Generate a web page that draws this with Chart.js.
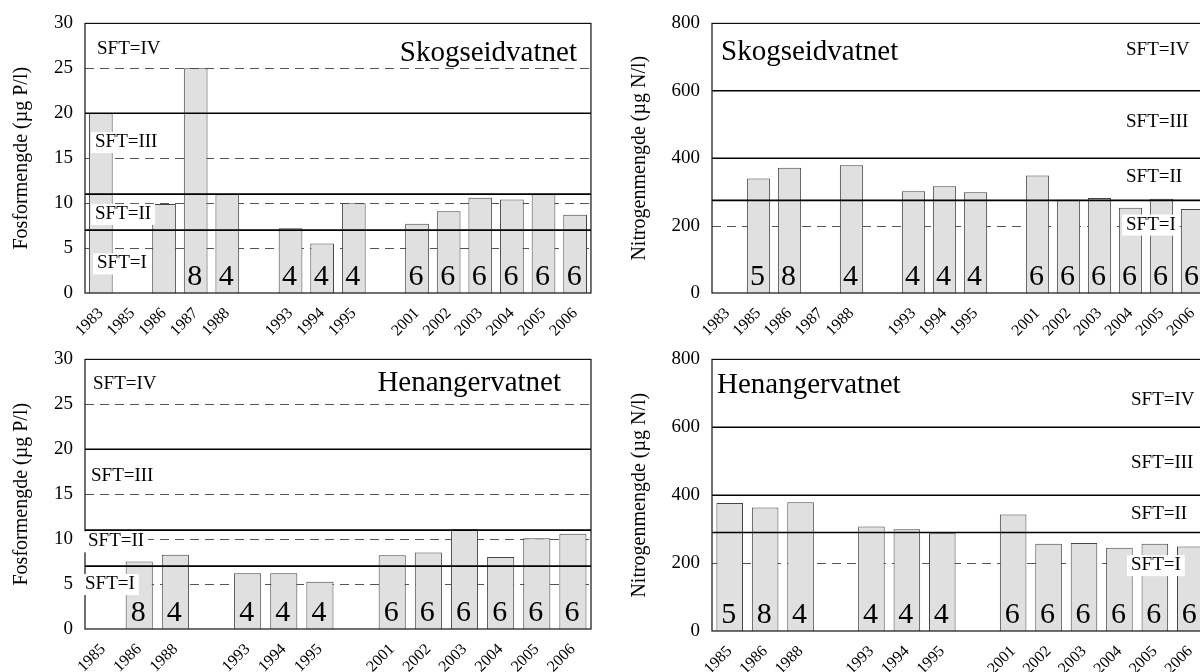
<!DOCTYPE html>
<html>
<head>
<meta charset="utf-8">
<script src="https://cdn.jsdelivr.net/npm/chart.js@4.4.1/dist/chart.umd.min.js"></script>
<style>
  html, body { margin:0; padding:0; background:#fff; overflow:hidden; width:1200px; height:672px; }
  canvas { position:absolute; }
</style>
</head>
<body>
<canvas id="c1" width="600" height="336" style="left:0;top:0"></canvas>
<canvas id="c2" width="620" height="336" style="left:600px;top:0"></canvas>
<canvas id="c3" width="600" height="336" style="left:0;top:336px"></canvas>
<canvas id="c4" width="620" height="336" style="left:600px;top:336px"></canvas>
<script>
// ---------- DATA ----------
const yearsSkog = ['1983','1985','1986','1987','1988','','1993','1994','1995','','2001','2002','2003','2004','2005','2006'];
const skogP      = [20, null, 9.9, 25, 11, null, 7.2, 5.5, 10, null, 7.7, 9.1, 10.6, 10.4, 11, 8.7];
const skogPCount = [null, null, null, 8, 4, null, 4, 4, 4, null, 6, 6, 6, 6, 6, 6];
const skogN      = [null, 340, 372, null, 379, null, 302, 317, 299, null, 349, 277, 282, 253, 280, 249];
const skogNCount = [null, 5, 8, null, 4, null, 4, 4, 4, null, 6, 6, 6, 6, 6, 6];

const yearsHen = ['1985','1986','1988','','1993','1994','1995','','2001','2002','2003','2004','2005','2006'];
const henP      = [null, 7.5, 8.25, null, 6.2, 6.2, 5.25, null, 8.2, 8.5, 11.1, 8.0, 10.1, 10.6];
const henPCount = [null, 8, 4, null, 4, 4, 4, null, 6, 6, 6, 6, 6, 6];
const henN      = [377, 364, 379, null, 308, 300, 288, null, 343, 257, 259, 245, 257, 249];
const henNCount = [5, 8, 4, null, 4, 4, 4, null, 6, 6, 6, 6, 6, 6];

const pSolid = [20, 11, 7];
const pDashed = [25, 15, 10, 5];
const nSolidSkog = [600, 400, 275];
const nSolidHen = [600, 400, 290];
const nDashed = [200];
const sftLabels = ['SFT=IV', 'SFT=III', 'SFT=II', 'SFT=I'];

// ---------- DRAWING ----------
const FONT = "'Liberation Serif', 'Times New Roman', serif";

const overlay = {
  id: 'overlay',
  beforeDatasetsDraw(chart, args, o) {
    const {ctx, chartArea: a} = chart;
    const y = chart.scales.y;
    ctx.save();
    ctx.strokeStyle = '#555';
    ctx.lineWidth = 1;
    ctx.setLineDash([9, 6]);
    o.dashed.forEach(v => {
      const py = Math.round(y.getPixelForValue(v)) + 0.5;
      ctx.beginPath(); ctx.moveTo(a.left, py); ctx.lineTo(a.right, py); ctx.stroke();
    });
    ctx.restore();
  },
  afterDatasetsDraw(chart, args, o) {
    const {ctx, chartArea: a} = chart;
    const y = chart.scales.y;
    ctx.save();
    // solid class boundaries
    ctx.strokeStyle = '#000';
    ctx.lineWidth = 1.6;
    o.solid.forEach(v => {
      const py = y.getPixelForValue(v);
      ctx.beginPath(); ctx.moveTo(a.left, py); ctx.lineTo(a.right, py); ctx.stroke();
    });
    // frame
    ctx.lineWidth = 1.2;
    ctx.strokeStyle = '#111';
    ctx.strokeRect(a.left, a.top, a.right - a.left, a.bottom - a.top);
    // counts
    const meta = chart.getDatasetMeta(0);
    ctx.fillStyle = '#000';
    ctx.font = '30px ' + FONT;
    ctx.textAlign = 'center';
    ctx.textBaseline = 'alphabetic';
    const base = y.getPixelForValue(0) - 8;
    o.counts.forEach((c, i) => {
      if (c == null) return;
      ctx.fillText(String(c), meta.data[i].x - 1, base);
    });
    // SFT labels
    ctx.font = '19px ' + FONT;
    ctx.textAlign = 'left';
    ctx.textBaseline = 'middle';
    o.labels.forEach(l => {
      const px = a.left + l.dx;
      const py = y.getPixelForValue(l.v);
      const w = ctx.measureText(l.text).width;
      ctx.fillStyle = '#fff';
      ctx.fillRect(px - 4, py - 10, w + 8, 21);
      ctx.fillStyle = '#000';
      ctx.fillText(l.text, px, py);
    });
    // lake title
    ctx.font = '29px ' + FONT;
    ctx.textBaseline = 'alphabetic';
    ctx.textAlign = o.title.align;
    const tx = o.title.align === 'right' ? a.right - o.title.dx : a.left + o.title.dx;
    ctx.fillText(o.title.text, tx, a.top + o.title.dy);
    ctx.restore();
  }
};

function makeChart(id, labels, values, counts, cfg) {
  return new Chart(document.getElementById(id), {
    type: 'bar',
    data: {
      labels: labels,
      datasets: [{
        data: values,
        backgroundColor: '#e0e0e0',
        borderColor: '#444',
        borderWidth: 1,
        categoryPercentage: 1,
        barPercentage: 0.75
      }]
    },
    plugins: [overlay],
    options: {
      responsive: false,
      animation: false,
      devicePixelRatio: 1,
      layout: { padding: { left: 0, top: cfg.padTop, right: cfg.padRight, bottom: 0 } },
      plugins: {
        legend: { display: false },
        tooltip: { enabled: false },
        overlay: {
          dashed: cfg.dashed,
          solid: cfg.solid,
          counts: counts,
          labels: cfg.labels,
          title: cfg.title
        }
      },
      scales: {
        x: {
          ticks: { font: { family: FONT, size: 16 }, color: '#000', maxRotation: 45, minRotation: 45, autoSkip: false, padding: 11 },
          grid: { display: false, drawTicks: false },
          border: { display: false },
          afterFit(s) { s.height = cfg.xHeight; }
        },
        y: {
          min: 0, max: cfg.max,
          ticks: { stepSize: cfg.step, font: { family: FONT, size: 19 }, color: '#000', padding: 12 },
          grid: { display: false, drawTicks: false },
          border: { display: false },
          title: { display: true, text: cfg.yTitle, font: { family: FONT, size: 20 }, color: '#000', padding: { top: cfg.titlePad, bottom: 0 } },
          afterFit(s) { s.width = cfg.yWidth; }
        }
      }
    }
  });
}

makeChart('c1', yearsSkog, skogP, skogPCount, {
  max: 30, step: 5, yTitle: 'Fosformengde (µg P/l)', yWidth: 85, titlePad: 10,
  padTop: 20, padRight: 9, xHeight: 43,
  dashed: pDashed, solid: pSolid,
  labels: [
    { text: sftLabels[0], dx: 12, v: 27.1 },
    { text: sftLabels[1], dx: 10, v: 16.8 },
    { text: sftLabels[2], dx: 10, v: 8.8 },
    { text: sftLabels[3], dx: 12, v: 3.3 }
  ],
  title: { text: 'Skogseidvatnet', align: 'right', dx: 14, dy: 38 }
});

makeChart('c2', yearsSkog, skogN, skogNCount, {
  max: 800, step: 200, yTitle: 'Nitrogenmengde (µg N/l)', yWidth: 112, titlePad: 28,
  padTop: 21, padRight: 12, xHeight: 43,
  dashed: nDashed, solid: nSolidSkog,
  labels: [
    { text: sftLabels[0], dx: 414, v: 722 },
    { text: sftLabels[1], dx: 414, v: 507 },
    { text: sftLabels[2], dx: 414, v: 344 },
    { text: sftLabels[3], dx: 414, v: 203 }
  ],
  title: { text: 'Skogseidvatnet', align: 'left', dx: 9, dy: 37 }
});

makeChart('c3', yearsHen, henP, henPCount, {
  max: 30, step: 5, yTitle: 'Fosformengde (µg P/l)', yWidth: 85, titlePad: 10,
  padTop: 20, padRight: 9, xHeight: 43,
  dashed: pDashed, solid: pSolid,
  labels: [
    { text: sftLabels[0], dx: 8, v: 27.3 },
    { text: sftLabels[1], dx: 6, v: 17.0 },
    { text: sftLabels[2], dx: 3, v: 9.75 },
    { text: sftLabels[3], dx: 0, v: 5.0 }
  ],
  title: { text: 'Henangervatnet', align: 'right', dx: 30, dy: 32 }
});

makeChart('c4', yearsHen, henN, henNCount, {
  max: 800, step: 200, yTitle: 'Nitrogenmengde (µg N/l)', yWidth: 112, titlePad: 28,
  padTop: 21, padRight: 12, xHeight: 41,
  dashed: nDashed, solid: nSolidHen,
  labels: [
    { text: sftLabels[0], dx: 419, v: 681 },
    { text: sftLabels[1], dx: 419, v: 494 },
    { text: sftLabels[2], dx: 419, v: 344 },
    { text: sftLabels[3], dx: 419, v: 194 }
  ],
  title: { text: 'Henangervatnet', align: 'left', dx: 5, dy: 34 }
});
</script>
</body>
</html>
